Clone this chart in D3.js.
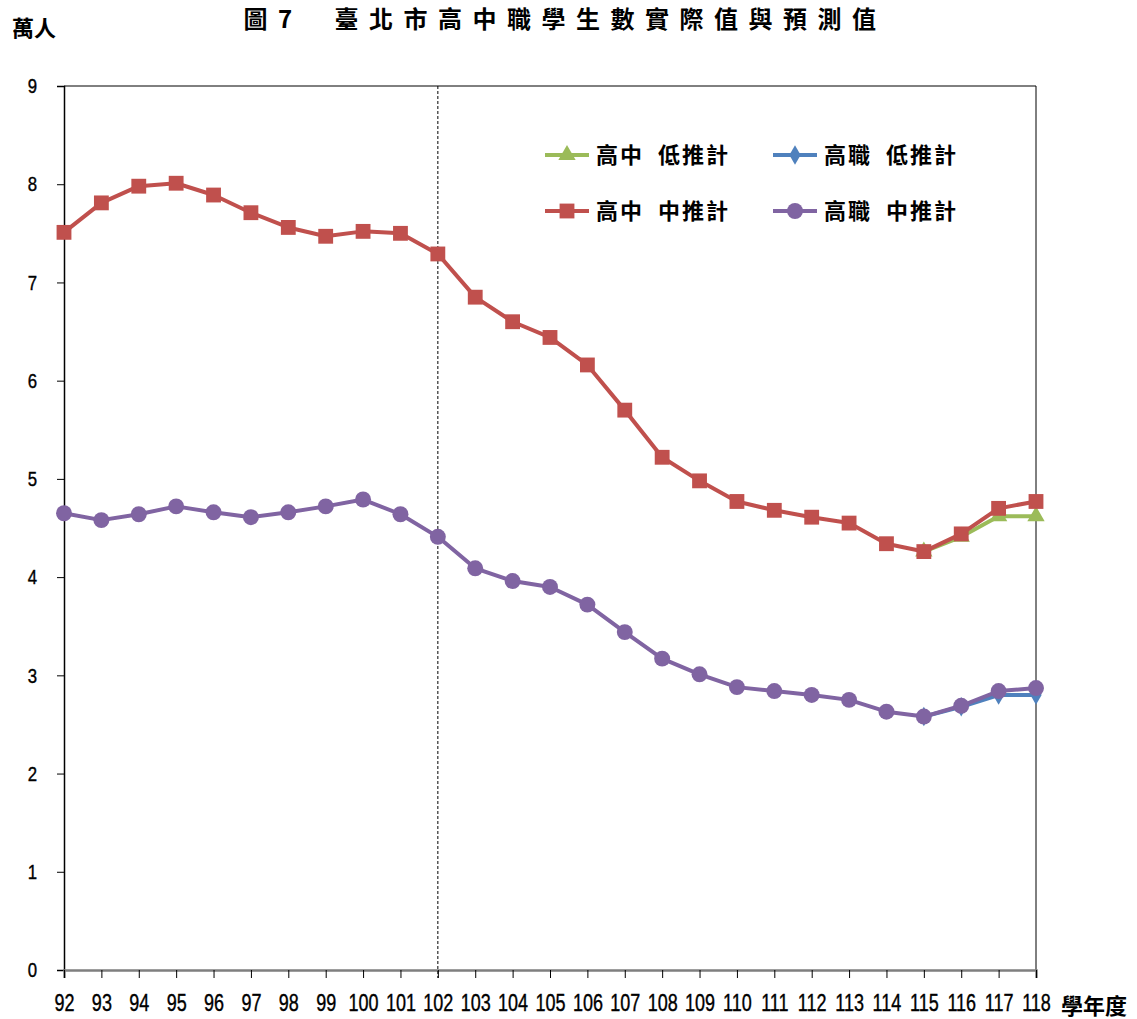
<!DOCTYPE html>
<html><head><meta charset="utf-8">
<script src="https://cdn.jsdelivr.net/npm/d3@7"></script>
<style>body{margin:0;background:#fff}</style>
</head><body>
<script>
const years = [92,93,94,95,96,97,98,99,100,101,102,103,104,105,106,107,108,109,110,111,112,113,114,115,116,117,118];
const hsMid = [7.51,7.81,7.98,8.01,7.89,7.71,7.56,7.47,7.52,7.50,7.29,6.85,6.60,6.44,6.16,5.70,5.22,4.98,4.77,4.68,4.61,4.55,4.34,4.26,4.44,4.70,4.77];
const vocMid = [4.65,4.58,4.64,4.72,4.66,4.61,4.66,4.72,4.79,4.64,4.41,4.09,3.96,3.90,3.72,3.44,3.17,3.01,2.88,2.84,2.80,2.75,2.63,2.58,2.69,2.84,2.87];
const lowYears = [115,116,117,118];
const hsLow = [4.26,4.41,4.62,4.62];
const vocLow = [2.58,2.68,2.80,2.80];
const yTicks = [0,1,2,3,4,5,6,7,8,9];
const title = "圖7  臺北市高中職學生數實際值與預測值";
const yUnit = "萬人";
const xUnit = "學年度";
const legendNames = ["高中  低推計","高職  低推計","高中  中推計","高職  中推計"];

const W = 1137, H = 1019;
const svg = d3.select("body").append("svg").attr("width", W).attr("height", H);
const L = 64, R = 1036, T = 86, B = 970;
const x = d3.scalePoint().domain(years).range([L, R]);
const y = d3.scaleLinear().domain([0, 9]).range([B, T]);
const numFont = "'Liberation Sans',Arial,sans-serif";
const cjkFont = "'Noto Sans CJK TC','Noto Sans CJK SC',sans-serif";

// frame
svg.append("line").attr("x1", L).attr("x2", R).attr("y1", T).attr("y2", T).attr("stroke", "#000").attr("stroke-width", 1);
svg.append("line").attr("x1", R).attr("x2", R).attr("y1", T).attr("y2", B).attr("stroke", "#000").attr("stroke-width", 1);

// y axis
const ySx = 0.8;
const yAxis = svg.append("g").attr("transform", `translate(${L},0)`)
  .call(d3.axisLeft(y).tickValues(yTicks).tickSize(7).tickFormat(d3.format("d")));
yAxis.select(".domain").attr("stroke", "#000").attr("stroke-width", 1.5);
yAxis.selectAll(".tick line").attr("stroke", "#000");
yAxis.selectAll("text").attr("font-family", numFont).attr("font-size", 21).attr("fill", "#000")
  .attr("stroke", "#000").attr("stroke-width", 0.4)
  .attr("x", -27 / ySx).attr("transform", `scale(${ySx},1)`);

// x axis
const xSx = 0.75;
const xAxis = svg.append("g").attr("transform", `translate(0,${B})`)
  .call(d3.axisBottom(x).tickSize(8));
xAxis.select(".domain").attr("stroke", "#7f7f7f").attr("stroke-width", 2.5);
xAxis.selectAll(".tick line").attr("stroke", "#000");
xAxis.selectAll("text").attr("font-family", numFont).attr("font-size", 24).attr("fill", "#000")
  .attr("stroke", "#000").attr("stroke-width", 0.4)
  .attr("y", 24).attr("transform", `scale(${xSx},1)`);

// dashed vertical at 102
svg.append("line").attr("x1", x(102)).attr("x2", x(102)).attr("y1", T).attr("y2", B + 8)
  .attr("stroke", "#000").attr("stroke-width", 1).attr("stroke-dasharray", "3,2");

const line = d3.line().x(d => x(d[0])).y(d => y(d[1]));
const series = [
  {name: legendNames[0], xs: lowYears, vs: hsLow, color: "#9BBB59", sym: d3.symbolTriangle, size: 130},
  {name: legendNames[1], xs: lowYears, vs: vocLow, color: "#4F81BD", sym: d3.symbolDiamond, size: 110},
  {name: legendNames[2], xs: years, vs: hsMid, color: "#C0504D", sym: d3.symbolSquare, size: 220},
  {name: legendNames[3], xs: years, vs: vocMid, color: "#8064A2", sym: d3.symbolCircle, size: 200},
];
series.forEach(s => {
  const pts = s.xs.map((xx, i) => [xx, s.vs[i]]);
  svg.append("path").attr("d", line(pts)).attr("fill", "none").attr("stroke", s.color).attr("stroke-width", 4).attr("stroke-linejoin", "round");
  svg.append("g").selectAll("path").data(pts).join("path")
    .attr("transform", d => `translate(${x(d[0])},${y(d[1])})`)
    .attr("d", d3.symbol().type(s.sym).size(s.size)).attr("fill", s.color);
});

// legend
const legPos = [[545, 155], [773, 155], [545, 211], [773, 211]];
series.forEach((s, i) => {
  const [lx, ly] = legPos[i];
  const g = svg.append("g").attr("transform", `translate(${lx},${ly})`);
  g.append("line").attr("x1", 0).attr("x2", 44).attr("stroke", s.color).attr("stroke-width", 4);
  g.append("path").attr("transform", "translate(22,0)").attr("d", d3.symbol().type(s.sym).size(s.size)).attr("fill", s.color);
  g.append("text").attr("x", 51).attr("y", 0).attr("dy", "0.36em").attr("font-family", cjkFont).attr("font-weight", "bold")
    .attr("font-size", 22).attr("letter-spacing", 2).style("white-space", "pre").text(s.name);
});

// titles
svg.append("text").attr("x", 565).attr("y", 28).attr("text-anchor", "middle")
  .attr("font-family", cjkFont).attr("font-weight", "bold").attr("font-size", 24).attr("letter-spacing", 10.5)
  .style("white-space", "pre").text(title);
svg.append("text").attr("x", 12).attr("y", 28).attr("dy", "0.36em").attr("font-family", cjkFont).attr("font-weight", "bold")
  .attr("font-size", 22).text(yUnit);
svg.append("text").attr("x", 1061).attr("y", 1006).attr("dy", "0.36em").attr("font-family", cjkFont).attr("font-weight", "bold")
  .attr("font-size", 22).text(xUnit);
</script>
</body></html>
